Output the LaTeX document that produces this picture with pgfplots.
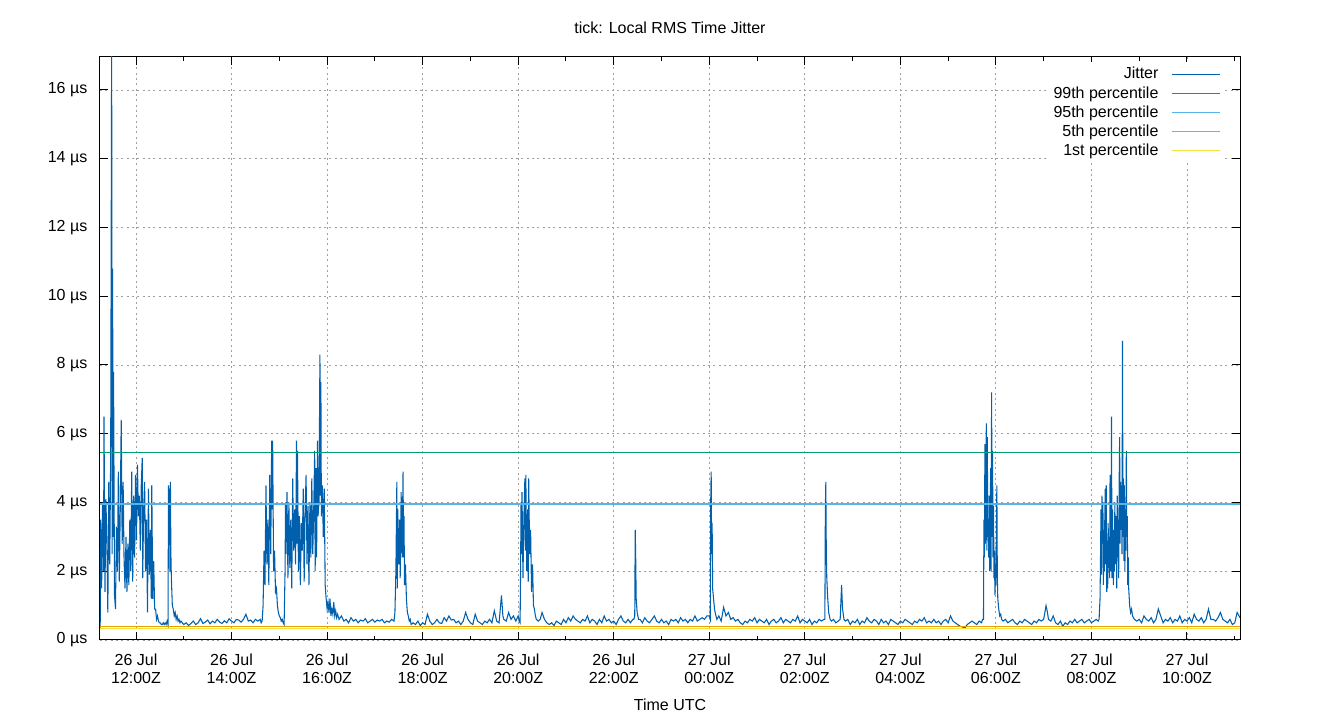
\documentclass[border=0pt]{standalone}
\usepackage{pgfplots}
\pgfplotsset{compat=1.18}
\usepackage{fontspec}
\setmainfont{Liberation Sans}
\definecolor{cjit}{HTML}{0060AD}
\definecolor{c99}{HTML}{009E73}
\definecolor{c95}{HTML}{56B4E9}
\definecolor{c05}{HTML}{E69F00}
\definecolor{c01}{HTML}{F0E442}
\begin{document}
\begin{tikzpicture}
\begin{axis}[
  scale only axis, width=855pt, height=437.25pt,
  xmin=11.246, xmax=35.11, ymin=0, ymax=16.96,
  axis line style={black, line width=0.75pt},
  tick style={black, line width=0.75pt},
  tick align=inside,
  major tick length=6pt, minor tick length=3pt,
  xtick={12,14,...,34},
  minor xtick={13,15,...,35},
  xticklabels={26 Jul\\12:00Z,26 Jul\\14:00Z,26 Jul\\16:00Z,26 Jul\\18:00Z,26 Jul\\20:00Z,26 Jul\\22:00Z,27 Jul\\00:00Z,27 Jul\\02:00Z,27 Jul\\04:00Z,27 Jul\\06:00Z,27 Jul\\08:00Z,27 Jul\\10:00Z},
  xticklabel style={align=center, font=\fontsize{12}{13.8}\selectfont, yshift=-6.75pt},
  ytick={0,2,...,16},
  yticklabels={0 µs,2 µs,4 µs,6 µs,8 µs,10 µs,12 µs,14 µs,16 µs},
  yticklabel style={font=\fontsize{12}{14}\selectfont, xshift=-6pt},
  grid=major,
  major grid style={gray!75, line width=0.7pt, dash pattern=on 1.6pt off 2.4pt},
  title={tick: Local RMS Time Jitter},
  title style={font=\fontsize{12}{14}\selectfont, yshift=8pt},
  xlabel={Time UTC},
  xlabel style={font=\fontsize{12}{14}\selectfont, yshift=-4.75pt},
  legend plot pos=right,
  legend cell align=right,
  legend style={at={(rel axis cs:0.9866,0.992)}, anchor=north east, draw=none, fill=white,
    font=\fontsize{12}{14}\selectfont, row sep=0.2pt, inner xsep=3pt},
  legend image code/.code={\path (0pt,0pt); \draw[#1] (7.5pt,0pt) -- (43.5pt,0pt);},
]
\addplot[cjit, line width=0.8pt] coordinates {
(11.25,0.35)(11.26,3.5)(11.28,1.5)(11.30,4.0)(11.32,2.0)(11.33,6.5)(11.35,1.4)(11.37,4.1)(11.39,2.8)(11.41,0.8)(11.43,4.6)(11.45,2.2)(11.47,5.4)(11.49,17.5)(11.50,2.5)(11.51,10.8)(11.52,3.0)(11.53,7.8)(11.55,1.3)(11.57,0.9)(11.59,3.3)(11.61,2.0)(11.63,4.9)(11.65,1.7)(11.67,3.8)(11.69,6.4)(11.71,2.8)(11.73,4.6)(11.75,2.3)(11.77,1.5)(11.79,3.0)(11.81,1.4)(11.83,2.8)(11.85,1.6)(11.87,3.5)(11.89,2.0)(11.91,4.9)(11.93,1.7)(11.95,4.2)(11.97,2.4)(11.99,4.8)(12.01,2.9)(12.03,5.1)(12.05,3.6)(12.07,4.2)(12.09,2.6)(12.11,4.5)(12.13,5.3)(12.14,1.8)(12.16,3.8)(12.18,4.6)(12.20,2.0)(12.22,3.5)(12.24,0.8)(12.26,4.4)(12.28,1.9)(12.30,3.2)(12.32,1.2)(12.33,4.5)(12.35,1.2)(12.37,2.3)(12.39,0.9)(12.41,0.9)(12.43,0.6)(12.45,0.7)(12.47,0.55)(12.49,0.5)(12.51,0.5)(12.53,0.45)(12.55,0.45)(12.57,0.5)(12.59,0.45)(12.61,0.5)(12.63,0.45)(12.65,0.55)(12.67,0.45)(12.68,4.5)(12.69,3.2)(12.70,4.4)(12.71,2.0)(12.72,4.6)(12.73,2.5)(12.74,1.8)(12.76,1.0)(12.78,0.9)(12.80,0.7)(12.82,0.8)(12.84,0.6)(12.86,0.7)(12.88,0.55)(12.90,0.6)(12.92,0.5)(12.94,0.55)
(13.00,0.45)(13.05,0.5)(13.10,0.42)(13.15,0.48)(13.20,0.55)(13.25,0.45)(13.30,0.5)(13.35,0.62)(13.40,0.48)(13.45,0.52)(13.50,0.58)(13.55,0.47)(13.60,0.55)(13.65,0.5)(13.70,0.6)(13.75,0.52)(13.80,0.48)(13.85,0.56)(13.90,0.5)(13.95,0.62)(14.00,0.55)(14.05,0.5)(14.10,0.6)(14.15,0.58)(14.20,0.52)(14.25,0.6)(14.30,0.75)(14.35,0.55)(14.40,0.58)(14.45,0.5)(14.50,0.6)(14.55,0.55)(14.60,0.6)
(14.62,0.5)(14.64,0.55)(14.66,1.0)(14.68,2.6)(14.70,1.6)(14.72,4.5)(14.74,2.2)(14.76,3.5)(14.78,1.6)(14.80,4.8)(14.82,2.5)(14.84,5.8)(14.85,3.8)(14.86,5.8)(14.88,2.0)(14.90,2.6)(14.92,1.4)(14.94,1.5)(14.96,1.0)(14.98,0.8)(15.00,0.7)(15.02,0.65)(15.04,0.55)(15.06,0.6)(15.08,0.5)(15.10,0.45)(15.12,2.0)(15.13,4.0)(15.14,2.5)(15.16,4.3)(15.18,1.8)(15.20,4.0)(15.22,2.1)(15.24,3.5)(15.26,1.5)(15.28,4.7)(15.30,2.6)(15.32,3.8)(15.34,2.2)(15.36,5.8)(15.37,2.8)(15.38,5.5)(15.40,2.0)(15.42,3.6)(15.44,1.6)(15.46,3.4)(15.48,2.6)(15.50,4.4)(15.52,1.7)(15.54,3.8)(15.56,4.8)(15.58,2.2)(15.60,3.9)(15.62,1.6)(15.64,4.0)(15.66,2.4)(15.68,4.7)(15.70,2.5)(15.72,3.8)(15.74,5.5)(15.75,2.0)(15.77,5.0)(15.78,2.4)(15.80,5.8)(15.81,3.6)(15.83,4.0)(15.85,8.3)(15.86,4.2)(15.87,7.5)(15.88,3.6)(15.90,4.5)(15.92,3.0)(15.94,4.4)(15.96,1.6)(15.98,1.2)(16.00,0.9)(16.02,1.1)(16.04,0.8)(16.06,1.2)(16.08,0.7)(16.10,0.9)(16.12,0.75)(16.14,1.1)(16.16,0.7)(16.18,0.85)(16.20,0.65)(16.22,0.75)(16.25,0.6)(16.30,0.7)(16.35,0.55)(16.40,0.6)
(16.45,0.5)(16.50,0.65)(16.55,0.55)(16.60,0.6)(16.65,0.5)(16.70,0.58)(16.75,0.55)(16.80,0.62)(16.85,0.5)(16.90,0.55)(16.95,0.6)(17.00,0.52)(17.05,0.58)(17.10,0.55)(17.15,0.6)(17.20,0.5)(17.25,0.55)(17.30,0.52)(17.35,0.6)
(17.40,0.55)(17.42,0.8)(17.44,2.0)(17.46,4.6)(17.47,1.5)(17.48,3.8)(17.50,2.2)(17.52,3.5)(17.53,1.8)(17.55,4.3)(17.57,2.4)(17.59,4.9)(17.60,2.4)(17.61,3.6)(17.62,1.6)(17.64,2.2)(17.66,1.2)(17.68,0.8)(17.70,0.7)(17.72,0.55)(17.74,0.6)(17.76,0.45)
(17.80,0.5)(17.85,0.45)(17.90,0.55)(17.95,0.42)(18.00,0.5)(18.05,0.45)(18.10,0.75)(18.15,0.55)(18.20,0.45)(18.25,0.5)(18.30,0.6)(18.35,0.5)(18.40,0.48)(18.45,0.65)(18.50,0.55)(18.55,0.7)(18.60,0.58)(18.65,0.6)(18.70,0.5)(18.75,0.55)(18.80,0.45)(18.85,0.55)(18.90,0.8)(18.95,0.6)(19.00,0.5)(19.05,0.45)(19.10,0.75)(19.15,0.55)(19.20,0.5)(19.25,0.45)(19.30,0.55)(19.35,0.5)(19.40,0.6)(19.45,0.5)(19.50,0.85)(19.55,0.55)(19.60,0.5)(19.65,1.3)(19.68,0.7)(19.70,0.6)(19.75,0.55)(19.80,0.8)(19.85,0.6)(19.90,0.7)(19.95,0.55)
(20.00,0.7)(20.02,0.55)(20.04,0.5)(20.05,2.0)(20.06,4.0)(20.07,2.5)(20.08,4.3)(20.10,1.8)(20.12,3.6)(20.14,4.7)(20.15,2.6)(20.16,4.8)(20.18,2.0)(20.20,3.8)(20.21,1.7)(20.22,4.7)(20.24,2.5)(20.26,3.2)(20.28,1.4)(20.30,2.2)(20.32,1.0)(20.34,0.9)(20.36,0.7)(20.38,0.6)(20.42,0.55)(20.46,0.6)
(20.50,0.8)(20.55,0.6)(20.60,0.5)(20.65,0.45)(20.70,0.5)(20.75,0.42)(20.80,0.55)(20.85,0.5)(20.90,0.45)(20.95,0.6)(21.00,0.5)(21.05,0.65)(21.10,0.55)(21.15,0.7)(21.20,0.6)(21.25,0.55)(21.30,0.5)(21.35,0.6)(21.40,0.55)(21.45,0.7)(21.50,0.5)(21.55,0.6)(21.60,0.55)(21.65,0.45)(21.70,0.6)(21.75,0.5)(21.80,0.7)(21.85,0.55)(21.90,0.6)(21.95,0.5)(22.00,0.55)(22.05,0.45)(22.10,0.6)(22.15,0.7)(22.20,0.55)(22.25,0.5)(22.30,0.6)(22.35,0.5)(22.40,0.6)
(22.42,0.6)(22.44,0.7)(22.45,3.2)(22.46,2.4)(22.47,1.2)(22.49,0.8)(22.52,0.6)
(22.55,0.6)(22.60,0.5)(22.65,0.65)(22.70,0.55)(22.75,0.5)(22.80,0.6)(22.85,0.7)(22.90,0.55)(22.95,0.5)(23.00,0.6)(23.05,0.5)(23.10,0.55)(23.15,0.45)(23.20,0.6)(23.25,0.55)(23.30,0.6)(23.35,0.5)(23.40,0.65)(23.45,0.55)(23.50,0.6)(23.55,0.5)(23.60,0.6)(23.65,0.55)(23.70,0.7)(23.75,0.55)(23.80,0.6)(23.85,0.65)(23.90,0.6)(23.95,0.7)(24.00,0.7)
(24.02,0.6)(24.03,4.0)(24.04,4.9)(24.05,2.5)(24.06,3.4)(24.07,1.5)(24.09,1.2)(24.11,0.9)(24.13,0.75)(24.16,0.6)
(24.20,0.7)(24.25,0.55)(24.30,0.95)(24.35,0.7)(24.40,0.8)(24.45,0.6)(24.50,0.65)(24.55,0.55)(24.60,0.6)(24.65,0.5)(24.70,0.45)(24.75,0.55)(24.80,0.5)(24.85,0.6)(24.90,0.55)(24.95,0.65)(25.00,0.5)(25.05,0.6)(25.10,0.55)(25.15,0.5)(25.20,0.6)(25.25,0.45)(25.30,0.55)(25.35,0.6)(25.40,0.5)(25.45,0.55)(25.50,0.65)(25.55,0.5)(25.60,0.6)(25.65,0.55)(25.70,0.5)(25.75,0.6)(25.80,0.55)(25.85,0.7)(25.90,0.5)(25.95,0.6)(26.00,0.55)(26.05,0.5)(26.10,0.6)(26.15,0.45)(26.20,0.55)(26.25,0.5)(26.30,0.6)(26.35,0.55)(26.40,0.6)
(26.42,0.6)(26.43,3.8)(26.44,4.6)(26.45,2.5)(26.46,1.8)(26.48,1.2)(26.50,0.8)(26.53,0.6)
(26.56,0.55)(26.60,0.6)(26.65,0.5)(26.70,0.55)(26.74,0.6)(26.77,1.6)(26.79,0.9)(26.82,0.6)(26.85,0.55)(26.90,0.6)(26.95,0.45)(27.00,0.55)(27.05,0.5)(27.10,0.6)(27.15,0.45)(27.20,0.55)(27.25,0.5)(27.30,0.65)(27.35,0.55)(27.40,0.5)(27.45,0.6)(27.50,0.55)(27.55,0.45)(27.60,0.6)(27.65,0.5)(27.70,0.55)(27.75,0.45)(27.80,0.6)(27.85,0.55)(27.90,0.5)(27.95,0.45)(28.00,0.55)(28.05,0.5)(28.10,0.6)(28.15,0.55)(28.20,0.5)(28.25,0.45)(28.30,0.55)(28.35,0.5)(28.40,0.6)(28.45,0.55)(28.50,0.65)(28.55,0.5)(28.60,0.55)
(28.65,0.5)(28.70,0.6)(28.75,0.5)(28.80,0.55)(28.85,0.45)(28.90,0.55)(28.95,0.6)(29.00,0.5)(29.05,0.7)(29.10,0.55)(29.15,0.5)(29.20,0.45)(29.25,0.4)(29.30,0.38)(29.35,0.35)(29.40,0.45)(29.45,0.5)(29.50,0.55)(29.55,0.5)(29.60,0.45)(29.65,0.55)(29.70,0.5)(29.72,0.6)
(29.74,0.6)(29.75,3.5)(29.76,2.4)(29.77,5.7)(29.78,2.8)(29.79,4.6)(29.80,6.3)(29.81,2.6)(29.82,5.9)(29.83,3.0)(29.84,3.5)(29.85,2.4)(29.86,4.2)(29.87,2.0)(29.88,3.2)(29.89,5.0)(29.90,2.0)(29.91,7.2)(29.92,3.0)(29.93,5.5)(29.94,2.4)(29.95,3.9)(29.96,1.8)(29.97,2.6)(29.98,1.3)(29.99,2.2)(30.00,1.6)(30.02,4.5)(30.03,1.8)(30.04,1.2)(30.06,0.9)(30.08,0.7)(30.10,0.75)(30.12,0.6)(30.15,0.55)
(30.20,0.6)(30.25,0.5)(30.30,0.55)(30.35,0.6)(30.40,0.5)(30.45,0.45)(30.50,0.55)(30.55,0.5)(30.60,0.6)(30.65,0.55)(30.70,0.5)(30.75,0.45)(30.80,0.55)(30.85,0.5)(30.90,0.6)(30.95,0.55)(31.00,0.6)(31.05,1.0)(31.08,0.8)(31.10,0.6)(31.15,0.55)(31.20,0.7)(31.25,0.5)(31.30,0.45)(31.35,0.55)(31.40,0.4)(31.45,0.5)(31.50,0.45)(31.55,0.55)(31.60,0.5)(31.65,0.6)(31.70,0.5)(31.75,0.55)(31.80,0.6)(31.85,0.5)(31.90,0.55)(31.95,0.6)(32.00,0.5)(32.05,0.55)(32.10,0.6)
(32.14,0.55)(32.16,0.6)(32.18,1.2)(32.19,2.4)(32.20,3.8)(32.21,1.9)(32.22,4.2)(32.23,2.8)(32.24,4.0)(32.25,1.6)(32.26,3.2)(32.27,2.0)(32.28,3.6)(32.29,4.4)(32.30,2.2)(32.31,4.5)(32.32,1.4)(32.33,2.6)(32.34,1.5)(32.35,3.4)(32.36,2.1)(32.37,3.0)(32.38,1.8)(32.39,4.8)(32.40,2.3)(32.41,2.0)(32.42,6.5)(32.43,1.8)(32.44,3.8)(32.45,2.5)(32.46,1.6)(32.47,3.2)(32.48,2.0)(32.49,4.0)(32.50,2.6)(32.51,2.2)(32.52,3.6)(32.53,1.5)(32.54,4.2)(32.55,2.4)(32.56,3.5)(32.57,1.8)(32.58,4.5)(32.59,5.9)(32.60,2.8)(32.61,4.6)(32.62,3.2)(32.63,4.5)(32.64,2.5)(32.65,8.7)(32.66,3.0)(32.67,4.7)(32.68,2.3)(32.69,4.5)(32.70,2.0)(32.71,3.6)(32.72,2.6)(32.73,5.5)(32.74,3.0)(32.75,3.6)(32.76,1.6)(32.77,2.4)(32.78,1.5)(32.80,1.0)(32.82,0.8)(32.84,0.9)(32.86,0.7)(32.88,0.65)(32.90,0.6)(32.95,0.55)
(33.00,0.6)(33.05,0.5)(33.10,0.7)(33.15,0.6)(33.20,0.55)(33.25,0.65)(33.30,0.5)(33.35,0.6)(33.40,0.9)(33.45,0.7)(33.50,0.5)(33.55,0.6)(33.60,0.55)(33.65,0.65)(33.70,0.5)(33.75,0.6)(33.80,0.55)(33.85,0.7)(33.90,0.5)(33.95,0.6)(34.00,0.55)(34.05,0.65)(34.10,0.5)(34.15,0.75)(34.20,0.6)(34.25,0.55)(34.30,0.65)(34.35,0.5)(34.40,0.6)(34.45,0.9)(34.50,0.6)(34.55,0.6)(34.60,0.55)(34.65,0.65)(34.70,0.8)(34.75,0.6)(34.80,0.55)(34.85,0.5)(34.90,0.6)(34.95,0.45)(35.00,0.5)(35.05,0.8)(35.11,0.65)
};
\addlegendentry{Jitter}
\addplot[c99, line width=1pt] coordinates {(11.246,5.45)(35.11,5.45)};
\addlegendentry{99th percentile}
\addplot[c95, line width=1pt] coordinates {(11.246,3.96)(35.11,3.96)};
\addlegendentry{95th percentile}
\addplot[c05, line width=1pt] coordinates {(11.246,0.40)(35.11,0.40)};
\addlegendentry{5th percentile}
\addplot[c01, line width=1pt] coordinates {(11.246,0.34)(35.11,0.34)};
\addlegendentry{1st percentile}
\end{axis}
\path (current axis.south west) ++(-75pt,-60pt) rectangle ++(1005pt,540pt);
\end{tikzpicture}
\end{document}
